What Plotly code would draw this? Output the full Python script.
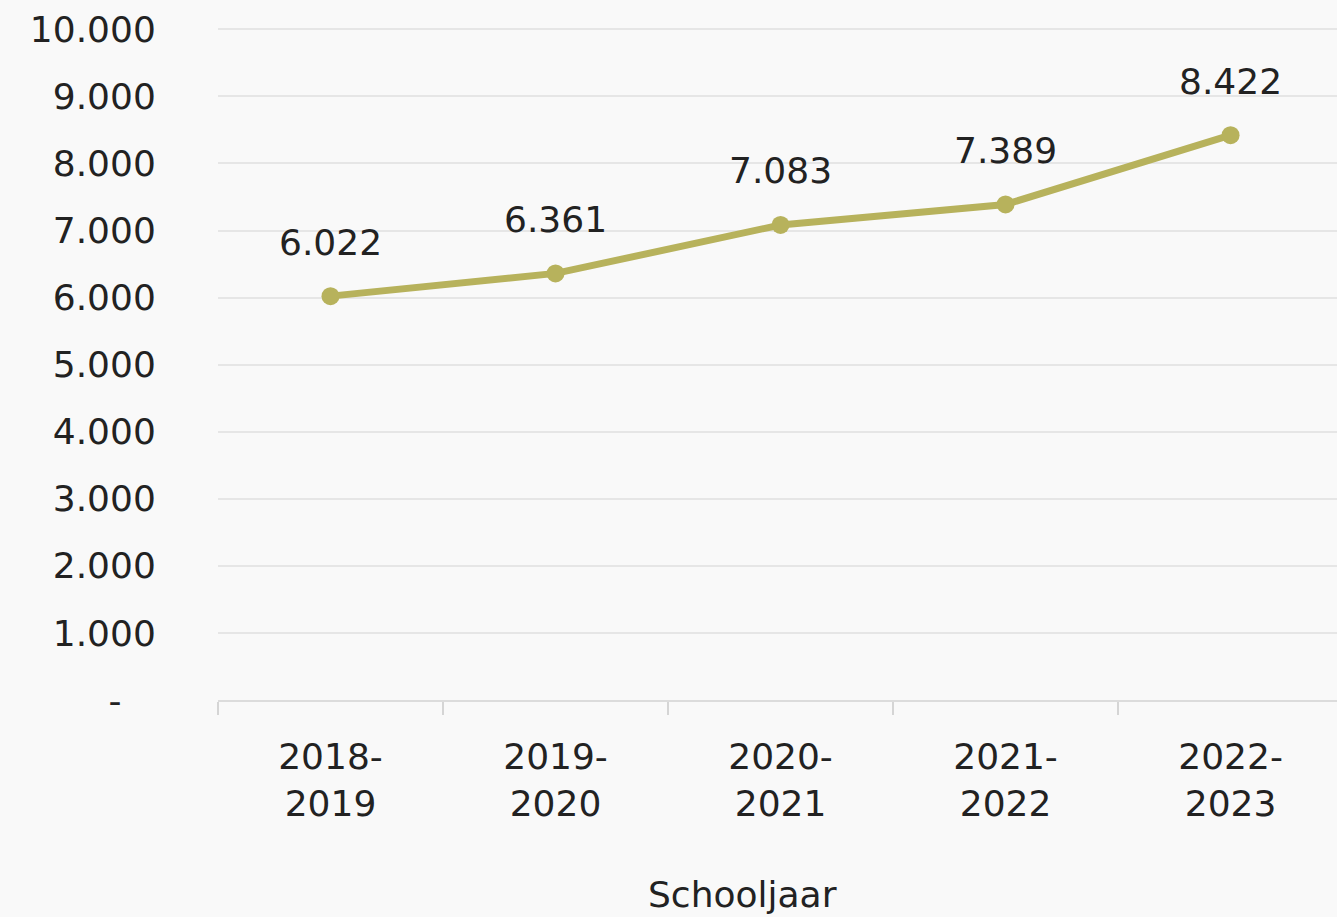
import plotly.graph_objects as go

categories = ["2018-<br>2019", "2019-<br>2020", "2020-<br>2021", "2021-<br>2022", "2022-<br>2023"]
values = [6022, 6361, 7083, 7389, 8422]
value_labels = ["6.022", "6.361", "7.083", "7.389", "8.422"]
y_tickvals = [0, 1000, 2000, 3000, 4000, 5000, 6000, 7000, 8000, 9000, 10000]
y_ticktext = ["-\u00a0\u00a0\u00a0", "1.000", "2.000", "3.000", "4.000", "5.000", "6.000", "7.000", "8.000", "9.000", "10.000"]
x_title = "Schooljaar"

line_color = "#b7b25c"
bg = "#f9f9f9"
font_family = "DejaVu Sans, Verdana, sans-serif"
text_color = "#222222"
fsize = 36

fig = go.Figure()
fig.add_trace(go.Scatter(
    x=categories, y=values, mode="lines+markers",
    line=dict(color=line_color, width=7),
    marker=dict(color=line_color, size=18),
    showlegend=False, hoverinfo="skip",
))

for c, v, t in zip(categories, values, value_labels):
    fig.add_annotation(x=c, y=v, text=t, showarrow=False, yshift=54,
                       font=dict(size=fsize, color=text_color, family=font_family))

fig.add_annotation(xref="paper", yref="paper", x=(742 - 218) / 1119, y=-0.29,
                   text=x_title, showarrow=False, yanchor="middle",
                   font=dict(size=fsize, color=text_color, family=font_family))

fig.update_layout(
    width=1337, height=917,
    margin=dict(l=218, r=0, t=28, b=217),
    paper_bgcolor=bg, plot_bgcolor=bg,
    font=dict(family=font_family, size=fsize, color=text_color),
    xaxis=dict(
        type="category", range=[-0.5, 4.473],
        showgrid=False, showline=True, linecolor="#dcdcdc", linewidth=2,
        ticks="outside", tickson="boundaries", ticklen=13, tickcolor="#d5d5d5", tickwidth=2,
        ticklabelstandoff=24,
        tickfont=dict(size=fsize, color=text_color, family=font_family),
        fixedrange=True,
    ),
    yaxis=dict(
        range=[0, 10020], tickvals=y_tickvals, ticktext=y_ticktext,
        showgrid=True, gridcolor="#e6e6e6", gridwidth=2,
        zeroline=False, showline=False,
        ticks="outside", ticklen=54, tickcolor=bg,
        tickfont=dict(size=fsize, color=text_color, family=font_family),
        fixedrange=True,
    ),
)

fig.write_html("out.html")
